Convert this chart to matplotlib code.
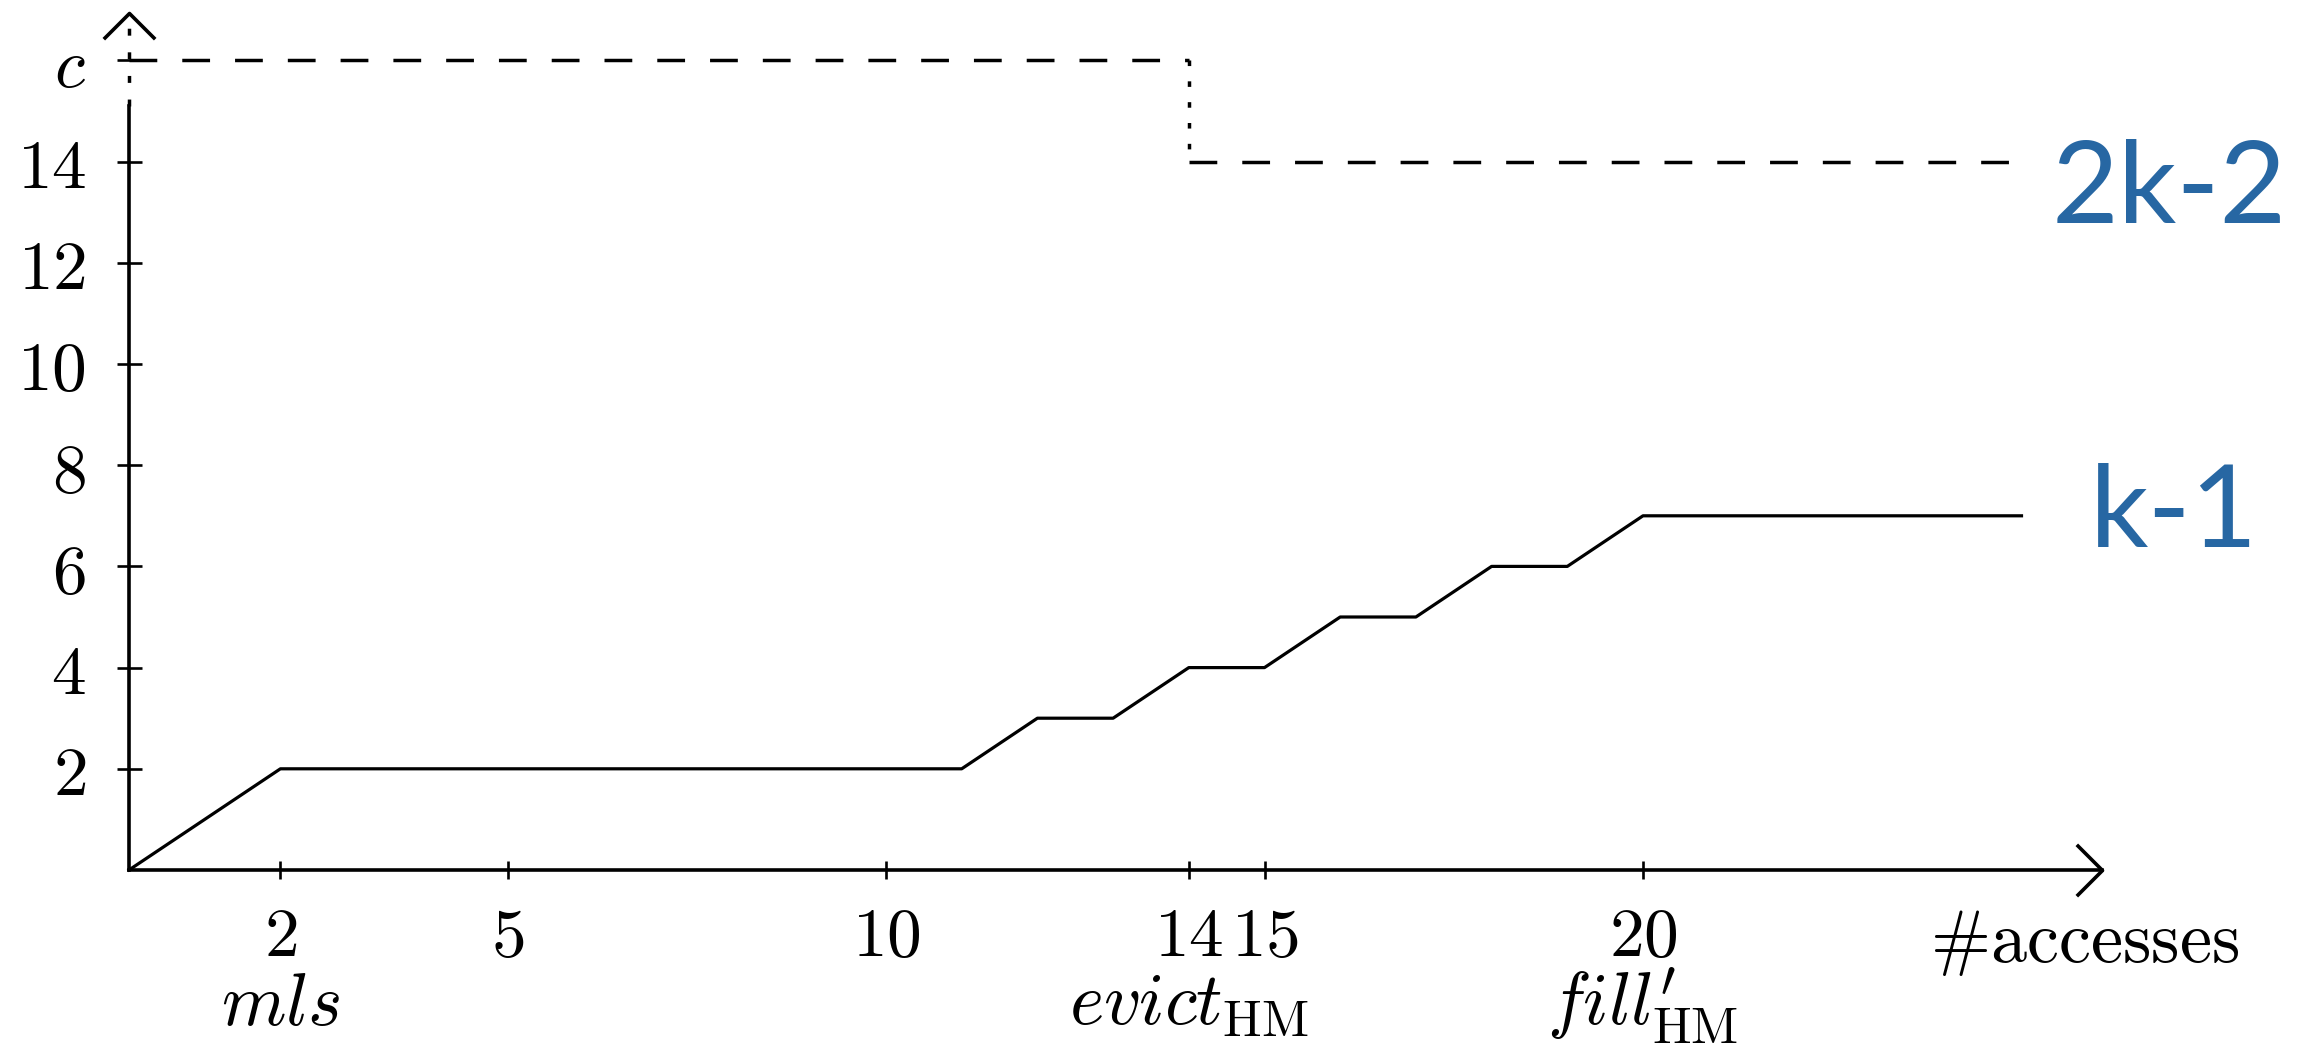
import numpy as np
import matplotlib.pyplot as plt
from matplotlib.path import Path

plt.rcParams['mathtext.fontset'] = 'cm'
plt.rcParams['lines.scale_dashes'] = False

# data
acc = [0, 2, 11, 12, 13, 14, 15, 16, 17, 18, 19, 20, 25]
occ = [0, 2, 2, 3, 3, 4, 4, 5, 5, 6, 6, 7, 7]
cap_hi_x = [0, 14]
cap_hi_y = [16, 16]
cap_lo_x = [14, 25]
cap_lo_y = [14, 14]
drop_x = [14, 14]
drop_y = [16, 14]

xticks = [2, 5, 10, 14, 15, 20]
xlabels = [r'$2$', r'$5$', r'$10$', r'$14$', r'$15$', r'$20$']
yticks = [2, 4, 6, 8, 10, 12, 14, 16]
ylabels = [r'$2$', r'$4$', r'$6$', r'$8$', r'$10$', r'$12$', r'$14$', r'$c$']
event_x = [2, 14, 20]
event_names = [r'$mls$', r'$evict_{\mathrm{HM}}$', r"$fill^{\prime}_{\mathrm{HM}}$"]

blue = '#2767a3'
W, H = 2302, 1043
x0, y0 = 129, 870          # origin in pixels
sx, sy = 75.7, 50.6        # pixels per unit

fig = plt.figure(figsize=(W / 100, H / 100), dpi=100)
ax = fig.add_axes([x0 / W, (H - y0) / H, 1 - x0 / W, y0 / H])
ax.set_xlim(0, (W - x0) / sx)
ax.set_ylim(0, y0 / sy)

for s in ['top', 'right']:
    ax.spines[s].set_visible(False)
ax.spines['left'].set_bounds(0, 15.1)
ax.spines['bottom'].set_bounds(0, 26.06)
ax.spines['left'].set_linewidth(2.6)
ax.spines['bottom'].set_linewidth(2.6)

ax.set_xticks(xticks, labels=xlabels)
ax.set_yticks(yticks, labels=ylabels)
ax.tick_params(axis='y', direction='inout', length=18, width=1.9, pad=22, labelsize=50)
ax.tick_params(axis='x', direction='inout', length=13, width=1.9, pad=17, labelsize=50)

# curves
ax.plot(acc, occ, color='k', lw=2.3, clip_on=False)
ax.plot(cap_hi_x, cap_hi_y, color='k', lw=2.5, dashes=(20, 18), clip_on=False)
ax.plot(cap_lo_x, cap_lo_y, color='k', lw=2.5, dashes=(20, 18), clip_on=False)
ax.plot(drop_x, drop_y, color='k', lw=2.5, dashes=(4, 11), clip_on=False)

# axis arrows
ax.plot([0, 0], [15.1, 16.94], color='k', lw=2.5, dashes=(5, 12), clip_on=False)
up = Path([(-1, -1), (0, 0), (1, -1)], [Path.MOVETO, Path.LINETO, Path.LINETO])
right = Path([(-1, 1), (0, 0), (-1, -1)], [Path.MOVETO, Path.LINETO, Path.LINETO])
ax.plot([0], [16.94], marker=up, ms=37, mfc='none', mec='k', mew=2.6, clip_on=False)
ax.plot([26.06], [0], marker=right, ms=37, mfc='none', mec='k', mew=2.6, clip_on=False)

# labels under the ticks
for x, name in zip(event_x, event_names):
    ax.text(x, -3.06, name, ha='center', va='baseline', fontsize=53)
ax.text(25.84, -0.75, r'$\#\mathrm{accesses}$', ha='center', va='top', fontsize=52)

ax.text(25.4, 12.79, '2k-2', ha='left', va='baseline', fontsize=83, color=blue, family='Lato')
ax.text(25.9, 6.38, 'k-1', ha='left', va='baseline', fontsize=83, color=blue, family='Lato')

fig.savefig('out.png', dpi=100)
